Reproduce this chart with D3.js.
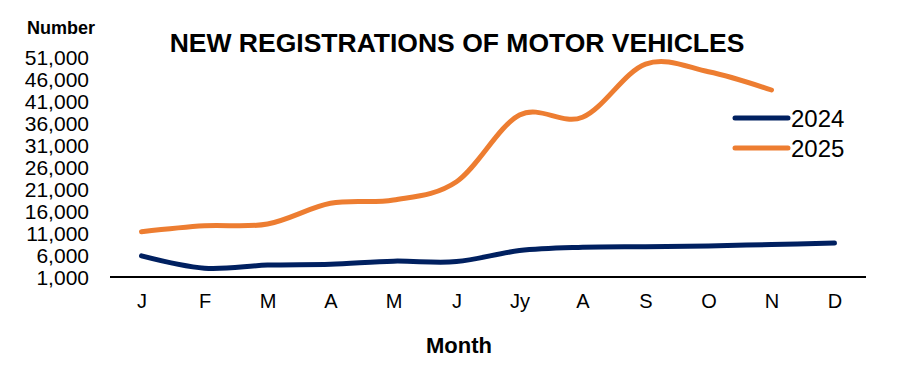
<!DOCTYPE html>
<html>
<head>
<meta charset="utf-8">
<script src="https://cdn.jsdelivr.net/npm/d3@7"></script>
<style>
  html, body { margin: 0; padding: 0; background: #fff; }
  svg text { font-family: "Liberation Sans", Arial, sans-serif; fill: #000; }
</style>
</head>
<body>
<div class="canvas"></div>
<script>
// data
const months = ["J", "F", "M", "A", "M", "J", "Jy", "A", "S", "O", "N", "D"];
const series = ["2024", "2025"];
const values2024 = [5800, 3000, 3700, 3900, 4600, 4500, 7000, 7750, 7900, 8050, 8400, 8700];
const values2025 = [11300, 12650, 13050, 17750, 18500, 22650, 37800, 37300, 49400, 47650, 43500, null];
const yTicks = [1000, 6000, 11000, 16000, 21000, 26000, 31000, 36000, 41000, 46000, 51000];

const colors = ["#002060", "#ED7D31"];

const chartSet = { width: 898, height: 370 };

const svg = d3
  .select(".canvas")
  .append("svg")
  .attr("width", chartSet.width)
  .attr("height", chartSet.height);

// scales
const x = d3.scalePoint().domain(d3.range(months.length)).range([110, 866]).padding(0.5);
const y = d3.scaleLinear().domain([1000, 51000]).range([277, 57]);

// y axis labels only (no line, no ticks)
const yAxis = d3.axisLeft(y).tickValues(yTicks).tickSize(0).tickPadding(0).tickFormat(d3.format(","));
const yg = svg.append("g").attr("transform", "translate(89,0)").call(yAxis);
yg.select(".domain").remove();
yg.selectAll("text").attr("font-size", 21).attr("dy", "0.36em").style("font-family", null);

// x axis
const xAxis = d3.axisBottom(x).tickSize(0).tickPadding(17).tickFormat((i) => months[i]);
const xg = svg.append("g").attr("transform", `translate(0,${y(1000)})`).call(xAxis);
xg.select(".domain").attr("d", "M110,0H866").attr("stroke", "#000").attr("stroke-width", 2);
xg.selectAll("text").attr("font-size", 20).style("font-family", null);

// lines
const line = d3
  .line()
  .defined((d) => d != null)
  .x((d, i) => x(i))
  .y((d) => y(d))
  .curve(d3.curveCardinal.tension(0));

[values2024, values2025].forEach((vals, k) => {
  svg
    .append("path")
    .datum(vals)
    .attr("fill", "none")
    .attr("stroke", colors[k])
    .attr("stroke-width", 5)
    .attr("stroke-linecap", "round")
    .attr("d", line);
});

// legend
const legend = svg.append("g").attr("transform", "translate(735,118)");
series.forEach((s, k) => {
  const row = legend.append("g").attr("transform", `translate(0,${k * 30})`);
  row.append("line").attr("x1", 0).attr("x2", 53).attr("stroke", colors[k]).attr("stroke-width", 5).attr("stroke-linecap", "round");
  row.append("text").attr("x", 56).attr("dy", "0.36em").attr("font-size", 24).text(s);
});

// titles
svg.append("text").attr("x", 457).attr("y", 52).attr("text-anchor", "middle")
  .attr("font-size", 26.5).attr("font-weight", "bold").text("NEW REGISTRATIONS OF MOTOR VEHICLES");
svg.append("text").attr("x", 27).attr("y", 34).attr("font-size", 18).attr("font-weight", "bold").text("Number");
svg.append("text").attr("x", 459).attr("y", 353).attr("text-anchor", "middle")
  .attr("font-size", 22).attr("font-weight", "bold").text("Month");
</script>
</body>
</html>
